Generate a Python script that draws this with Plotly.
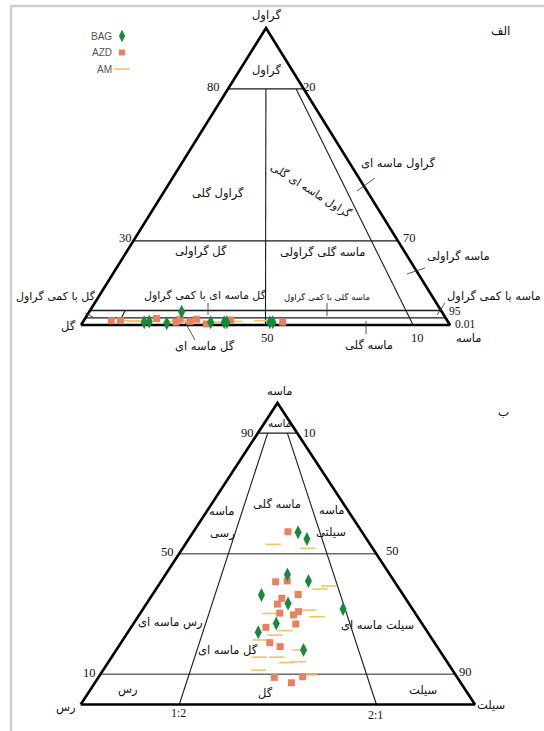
import numpy as np
import plotly.graph_objects as go

# ---------------- Gravel - sand - mud samples (%) : diagram الف ----------------
gsm_bag_gravel = [0.004, 0.005, 0.0025, 4.2, 0.004, 0.004, 0.004, 0.004, 0.004]
gsm_bag_sand = [16.8, 18.1, 23.1, 25.1, 35.0, 38.7, 39.4, 51.2, 52.0]
gsm_bag_mud = [83.2, 81.9, 76.9, 70.7, 65.0, 61.3, 60.6, 48.8, 48.0]

gsm_azd_gravel = [0.006, 0.006, 0.009, 0.004, 0.008, 0.005, 0.008, 0.0015, 0.007, 0.004]
gsm_azd_sand = [7.6, 10.1, 19.8, 25.5, 26.4, 29.3, 31.0, 33.9, 40.4, 54.7]
gsm_azd_mud = [92.4, 89.9, 80.2, 74.5, 73.6, 70.7, 69.0, 66.1, 59.6, 45.3]

gsm_am_gravel = [0.006, 0.005, 0.006, 0.005, 0.006, 0.004, 0.005, 0.006]
gsm_am_sand = [11.5, 14.0, 16.2, 24.1, 28.8, 35.6, 41.6, 49.0]
gsm_am_mud = [88.5, 86.0, 83.8, 75.9, 71.2, 64.4, 58.4, 51.0]

# ---------------- Sand - silt - clay samples (%) : diagram ب ----------------
ssc_bag_sand = [57.1, 54.9, 43.1, 41.0, 36.3, 33.5, 31.7, 26.9, 24.0, 18.1]
ssc_bag_silt = [24.9, 27.5, 30.1, 34.7, 29.1, 35.0, 45.2, 36.3, 34.7, 45.3]
ssc_bag_clay = [18.0, 17.6, 26.8, 24.3, 34.6, 31.5, 23.1, 36.8, 41.3, 36.6]

ssc_azd_sand = [57.3, 40.7, 41.0, 36.5, 35.2, 33.3, 30.8, 30.3, 29.7, 26.7, 25.6, 20.5, 19.2, 9.0, 9.2, 7.2]
ssc_azd_silt = [23.1, 29.3, 31.1, 35.2, 33.1, 33.3, 38.1, 35.2, 37.8, 39.7, 35.2, 38.4, 40.8, 44.9, 49.6, 48.7]
ssc_azd_clay = [19.6, 30.0, 27.9, 28.3, 31.7, 33.4, 31.1, 34.5, 32.5, 33.6, 39.2, 41.1, 40.0, 46.1, 41.2, 44.1]

ssc_am_sand = [53.1, 51.8, 38.3, 39.3, 30.2, 31.3, 29.1, 24.5, 23.0, 21.4, 18.1, 15.7, 15.7, 13.9, 14.2, 11.4, 9.8]
ssc_am_silt = [22.7, 29.2, 38.0, 39.0, 33.6, 39.5, 42.1, 39.0, 38.0, 36.3, 44.7, 39.0, 42.0, 44.5, 46.4, 41.0, 50.5]
ssc_am_clay = [24.2, 19.0, 23.7, 21.7, 36.2, 29.2, 28.8, 36.5, 39.0, 42.3, 37.2, 45.3, 42.3, 41.6, 39.4, 47.6, 39.7]

# Folk class boundaries
gsm_gravel_levels = [80, 30, 5, 0.01]
gsm_ratio_lines = [(0.5, 0, 80), (0.9, 0, 80), (0.1, 0.01, 5)]   # sand share, gravel from, gravel to
ssc_sand_levels = [90, 50, 10]
ssc_ratio_lines = [1 / 3, 2 / 3]                                  # silt share of the fines

series = [
    dict(name="BAG", symbol="diamond-tall", size=10, color="#17893b"),
    dict(name="AZD", symbol="square", size=7, color="#e9805f"),
    dict(name="AM", symbol="line-ew", size=11, color="#f1c36a"),
]

# ---------------- diagram frames (figure pixel units) ----------------
W, H = 544, 731
TOP = dict(left=(81, 325), right=(450, 325), apex=(266, 28))
BOT = dict(left=(80.7, 704.5), right=(475, 704.5), apex=(277.5, 403))
# schematic (stretched) gravel axis of the upper diagram
GRAVEL_STOPS = [0, 0.01, 5, 30, 80, 100]
GRAVEL_HEIGHT = [0, 0.0242, 0.0488, 0.283, 0.795, 1.0]
# schematic spacing of silt:clay ratio along the base of the lower diagram
RATIO_STOPS = [0, 1 / 3, 2 / 3, 1]
RATIO_POS = [0, 0.25, 0.75, 1]


def place(frame, h, u):
    (lx, ly), (rx, ry), (ax, ay) = frame["left"], frame["right"], frame["apex"]
    h = np.asarray(h, float)
    u = np.asarray(u, float)
    xl, yl = lx + (ax - lx) * h, ly + (ay - ly) * h
    xr, yr = rx + (ax - rx) * h, ry + (ay - ry) * h
    return xl + (xr - xl) * u, yl + (yr - yl) * u


def gsm_xy(gravel, sand, mud):
    g, s, m = (np.asarray(v, float) for v in (gravel, sand, mud))
    h = np.interp(g / (g + s + m) * 100, GRAVEL_STOPS, GRAVEL_HEIGHT)
    return place(TOP, h, s / (s + m))


def ssc_xy(sand, silt, clay):
    s, si, c = (np.asarray(v, float) for v in (sand, silt, clay))
    tot = s + si + c
    u = np.interp(si / (si + c), RATIO_STOPS, RATIO_POS)
    return place(BOT, s / tot, u)


fig = go.Figure()


def add_line(x, y, width, color="#1a1a1a"):
    fig.add_trace(go.Scatter(x=list(x), y=list(y), mode="lines",
                             line=dict(color=color, width=width),
                             hoverinfo="skip", showlegend=False))


# ---------------- upper diagram: gravel / sand / mud ----------------
for g in gsm_gravel_levels:
    x, y = gsm_xy([g, g], [0, 100 - g], [100 - g, 0])
    add_line(x, y, 1.3)
for r, g0, g1 in gsm_ratio_lines:
    gg = np.array([g0, g1], float)
    x, y = gsm_xy(gg, (100 - gg) * r, (100 - gg) * (1 - r))
    add_line(x, y, 1.1)
x, y = place(TOP, [0, 1, 0, 0], [0, 0.5, 1, 0])
add_line(x, y, 2.6, "#000")

# ---------------- lower diagram: sand / silt / clay ----------------
for s in ssc_sand_levels:
    x, y = ssc_xy([s, s], [0, 100 - s], [100 - s, 0])
    add_line(x, y, 1.5 if s != 90 else 1.2, "#6b6b6b" if s != 90 else "#1a1a1a")
for f in ssc_ratio_lines:
    x, y = ssc_xy([0, 90], [100 * f, 10 * f], [100 * (1 - f), 10 * (1 - f)])
    add_line(x, y, 1.1)
x, y = place(BOT, [0, 1, 0, 0], [0, 0.5, 1, 0])
add_line(x, y, 2.6, "#000")

# ---------------- samples ----------------
samples = {
    "AM": [(gsm_am_gravel, gsm_am_sand, gsm_am_mud, gsm_xy),
           (ssc_am_sand, ssc_am_silt, ssc_am_clay, ssc_xy)],
    "AZD": [(gsm_azd_gravel, gsm_azd_sand, gsm_azd_mud, gsm_xy),
            (ssc_azd_sand, ssc_azd_silt, ssc_azd_clay, ssc_xy)],
    "BAG": [(gsm_bag_gravel, gsm_bag_sand, gsm_bag_mud, gsm_xy),
            (ssc_bag_sand, ssc_bag_silt, ssc_bag_clay, ssc_xy)],
}
style = {s["name"]: s for s in series}
for name in ["AM", "AZD", "BAG"]:
    st = style[name]
    for a, b, c, fn in samples[name]:
        x, y = fn(a, b, c)
        if st["symbol"] == "line-ew":
            marker = dict(symbol="line-ew", size=st["size"],
                          line=dict(color=st["color"], width=1.6))
        else:
            marker = dict(symbol=st["symbol"], size=st["size"], color=st["color"],
                          line=dict(width=0))
        fig.add_trace(go.Scatter(x=x, y=y, mode="markers", name=name,
                                 marker=marker, showlegend=False))

# ---------------- legend (label left of the symbol) ----------------
LEG_X, LEG_Y, LEG_DY = 122, 36, 16.5
for i, st in enumerate(series):
    yy = LEG_Y + i * LEG_DY
    if st["symbol"] == "line-ew":
        marker = dict(symbol="line-ew", size=st["size"], line=dict(color=st["color"], width=1.6))
    else:
        marker = dict(symbol=st["symbol"], size=st["size"] - 1, color=st["color"])
    fig.add_trace(go.Scatter(x=[LEG_X], y=[yy], mode="markers", marker=marker,
                             hoverinfo="skip", showlegend=False))
    fig.add_annotation(x=LEG_X - 8, y=yy, text=st["name"], showarrow=False,
                       xanchor="right", yanchor="middle",
                       font=dict(family="Liberation Sans, Arial", size=10, color="#555"))

FA = "DejaVu Sans"
FN = "Liberation Serif, Times New Roman"


def label(x, y, text, size=11.5, family=FA, angle=0, anchor="center"):
    fig.add_annotation(x=x, y=y, text=text, showarrow=False, textangle=angle,
                       xanchor=anchor, yanchor="middle",
                       font=dict(family=family, size=size, color="#111"))


# upper diagram labels
label(266, 15, "گراول")
label(266, 70, "گراول")
label(213, 87, "80", 12.5, FN)
label(309, 87, "20", 12.5, FN)
label(125, 238, "30", 12.5, FN)
label(409, 238, "70", 12.5, FN)
label(218, 193, "گراول گلی")
label(311, 190, "گراول ماسه ای گلی", 11, angle=32)
label(398, 163, "گراول ماسه ای")
label(201, 251, "گل گراولی")
label(322, 252, "ماسه گلی گراولی")
label(458, 256, "ماسه گراولی")
label(56, 296, "گل با کمی گراول", 11)
label(205, 295, "گل ماسه ای با کمی گراول", 11)
label(327, 297, "ماسه گلی با کمی گراول", 8.5)
label(494, 296, "ماسه با کمی گراول", 11.5)
label(455, 311, "95", 11.5, FN)
label(465, 324, "0.01", 11.5, FN)
label(68, 326, "گل")
label(468, 338, "ماسه")
label(267, 338, "50", 12.5, FN)
label(417, 338, "10", 12.5, FN)
label(205, 346, "گل ماسه ای")
label(369, 345, "ماسه گلی")
label(500, 31, "الف", 12)

# leader lines of the upper diagram
for x0, y0, x1, y1 in [(375, 178, 357, 191), (425, 268, 407, 274), (85, 313, 93, 317),
                       (208, 303, 208, 315), (327, 303, 327, 316), (445, 303, 437, 315),
                       (185, 322, 195, 340), (366, 321, 366, 334)]:
    fig.add_shape(type="line", x0=x0, y0=y0, x1=x1, y1=y1, line=dict(color="#444", width=0.9))

# lower diagram labels
label(279, 391, "ماسه")
label(279, 423, "ماسه", 10.5)
label(247, 433, "90", 12.5, FN)
label(309, 433, "10", 12.5, FN)
label(167, 552, "50", 12.5, FN)
label(392, 551, "50", 12.5, FN)
label(89, 673, "10", 12.5, FN)
label(465, 672, "90", 12.5, FN)
label(277, 504, "ماسه گلی")
label(221, 511, "ماسه")
label(222, 533, "رسی")
label(331, 510, "ماسه")
label(331, 532, "سیلتی")
label(170, 622, "رس ماسه ای")
label(228, 650, "گل ماسه ای")
label(377, 625, "سیلت ماسه ای")
label(128, 689, "رس")
label(265, 693, "گل")
label(423, 690, "سیلت")
label(66, 707, "رس")
label(491, 705, "سیلت")
label(178, 713, "1:2", 12, FN)
label(375, 715, "2:1", 12, FN)
label(503, 412, "ب", 12)

# page frame
fig.add_shape(type="rect", x0=11, y0=6, x1=600, y1=800, line=dict(color="#cfcfcf", width=2.5))

fig.update_layout(
    width=W, height=H, autosize=False,
    margin=dict(l=0, r=0, t=0, b=0),
    paper_bgcolor="white", plot_bgcolor="white",
    showlegend=False,
    xaxis=dict(range=[0, W], visible=False, fixedrange=True),
    yaxis=dict(range=[H, 0], visible=False, fixedrange=True),
)

fig.write_html("out.html")
